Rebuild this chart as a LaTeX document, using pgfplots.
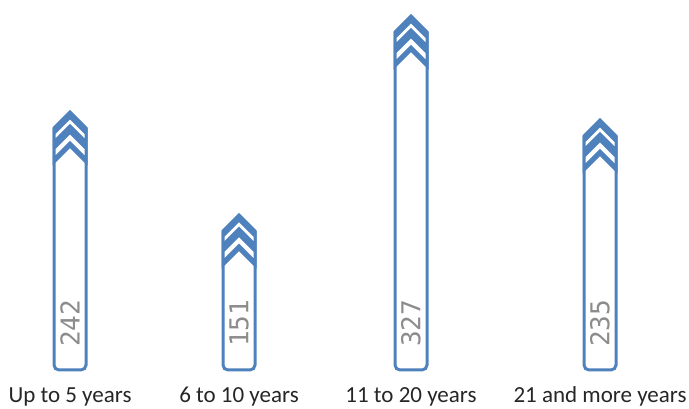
\documentclass[border=0pt]{standalone}
\usepackage{pgfplots}
\pgfplotsset{compat=1.18}
\usepackage{pgfplotstable}
\usepackage{fontspec}
\setmainfont{Carlito}
\newfontfamily\valfont{DejaVu Sans Mono}
\definecolor{barblue}{HTML}{4F81BD}
\definecolor{valgray}{HTML}{8C8C8C}
\definecolor{labtext}{HTML}{262626}

\pgfplotstableread{
x v
70 242
239 151
411 327
600 235
}\data

\pgfdeclareplotmark{chev}{%
  % cover the top of the bar body
  \pgfpathrectanglecorners{\pgfpoint{-19pt}{3pt}}{\pgfpoint{19pt}{-16pt}}%
  \pgfsetfillcolor{white}\pgfusepath{fill}%
  % blue chevron block with outline
  \pgfpathmoveto{\pgfpoint{0pt}{0pt}}%
  \pgfpathlineto{\pgfpoint{16pt}{-16pt}}%
  \pgfpathlineto{\pgfpoint{16pt}{-50pt}}%
  \pgfpathlineto{\pgfpoint{0pt}{-34pt}}%
  \pgfpathlineto{\pgfpoint{-16pt}{-50pt}}%
  \pgfpathlineto{\pgfpoint{-16pt}{-16pt}}%
  \pgfpathclose
  \pgfsetfillcolor{barblue}\pgfsetstrokecolor{barblue}%
  \pgfsetlinewidth{3pt}\pgfsetmiterjoin
  \pgfusepath{fill,stroke}%
  % white stripe 1
  \pgfpathmoveto{\pgfpoint{-14.5pt}{-22pt}}%
  \pgfpathlineto{\pgfpoint{0pt}{-7.5pt}}%
  \pgfpathlineto{\pgfpoint{14.5pt}{-22pt}}%
  \pgfpathlineto{\pgfpoint{14.5pt}{-26pt}}%
  \pgfpathlineto{\pgfpoint{0pt}{-11.5pt}}%
  \pgfpathlineto{\pgfpoint{-14.5pt}{-26pt}}%
  \pgfpathclose
  % white stripe 2
  \pgfpathmoveto{\pgfpoint{-14.5pt}{-37pt}}%
  \pgfpathlineto{\pgfpoint{0pt}{-22.5pt}}%
  \pgfpathlineto{\pgfpoint{14.5pt}{-37pt}}%
  \pgfpathlineto{\pgfpoint{14.5pt}{-43pt}}%
  \pgfpathlineto{\pgfpoint{0pt}{-28.5pt}}%
  \pgfpathlineto{\pgfpoint{-14.5pt}{-43pt}}%
  \pgfpathclose
  \pgfsetfillcolor{white}\pgfusepath{fill}%
}

\begin{document}
\begin{tikzpicture}
\begin{axis}[
  scale only axis, width=689pt, height=370pt,
  xmin=0, xmax=689, ymin=13.8, ymax=341.2,
  y coord trafo/.code={\pgfmathparse{#1-13.8}},
  y coord inv trafo/.code={\pgfmathparse{#1+13.8}},
  axis line style={draw=none}, ytick=\empty,
  xtick={70,239,411,600},
  xticklabels={Up to 5 years, 6 to 10 years, 11 to 20 years, 21 and more years},
  major tick length=0pt,
  xticklabel style={font=\fontsize{23}{27}\selectfont, anchor=base, yshift=-33pt, text=labtext},
  clip=false,
]
\addplot[ybar, bar width=32pt, draw=barblue, fill=white, line width=3pt, rounded corners=5pt]
  table[x=x, y=v] {\data};
\addplot[only marks, mark=chev] table[x=x, y=v] {\data};
\addplot[only marks, mark=none, point meta=explicit symbolic,
  nodes near coords={\pgfplotspointmeta},
  nodes near coords style={font=\valfont\fontsize{26}{30}\selectfont, text=valgray, rotate=90, anchor=west, inner sep=0pt}]
  table[x=x, y expr=34.2, meta=v] {\data};
\end{axis}
\pgfresetboundingbox
\useasboundingbox (current axis.south west) ++(0pt,-39pt) rectangle (current axis.north east);
\end{tikzpicture}
\end{document}
